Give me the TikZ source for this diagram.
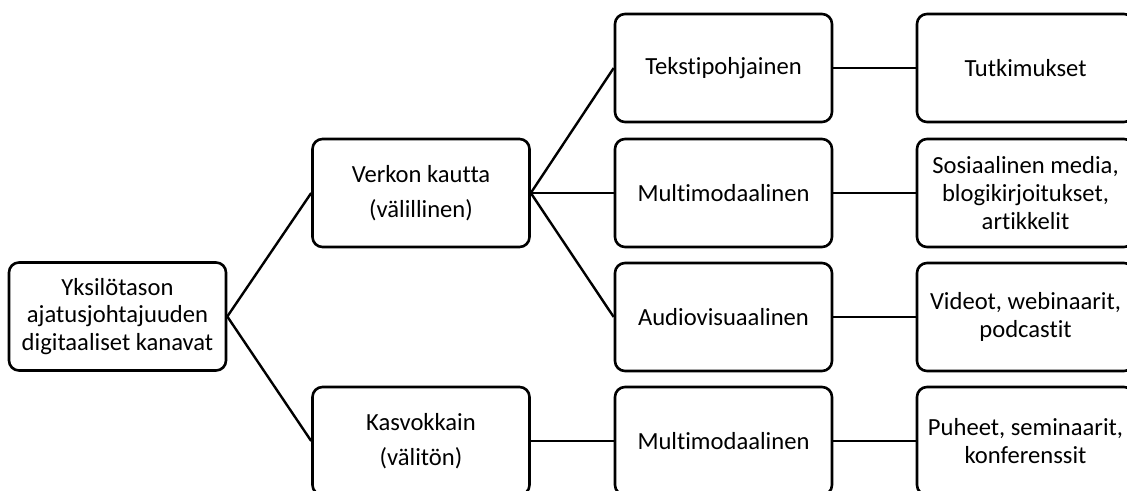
\documentclass[tikz,border=0pt]{standalone}
\usepackage{fontspec}
\setmainfont{Carlito}[Ligatures={NoCommon}]
\begin{document}
\begin{tikzpicture}[x=1pt,y=-1pt,
  box/.style={draw, line width=2.6pt, rounded corners=10pt, rectangle,
    minimum width=217pt, minimum height=108pt, inner sep=0pt,
    align=center, font=\fontsize{24.6}{27.8}\selectfont},
  link/.style={line width=2.4pt}]
\useasboundingbox (0,0) rectangle (1127,490);
\clip (0,0) rectangle (1127,490);
% root
\node[box] (root) at (117.5,316.5) {Yksilötason\\ajatusjohtajuuden\\digitaaliset kanavat};
% second level
\node[box] (online) at (421,193) {Verkon kautta\\[7pt](välillinen)};
\node[box] (face) at (421,441) {Kasvokkain\\[7pt](välitön)};
% third level
\node[box] (text) at (723.5,68) {Tekstipohjainen};
\node[box] (multi) at (723.5,193) {Multimodaalinen};
\node[box] (av) at (723.5,317) {Audiovisuaalinen};
\node[box] (multib) at (723.5,441) {Multimodaalinen};
% fourth level
\node[box] (res) at (1025.5,68) {Tutkimukset};
\node[box] (soc) at (1025.5,193) {Sosiaalinen media,\\blogikirjoitukset,\\artikkelit};
\node[box] (vid) at (1025.5,317) {Videot, webinaarit,\\podcastit};
\node[box] (talk) at (1025.5,441) {Puheet, seminaarit,\\konferenssit};
% connectors
\draw[link] (root.east) -- (online.west);
\draw[link] (root.east) -- (face.west);
\draw[link] (online.east) -- (text.west);
\draw[link] (online.east) -- (multi.west);
\draw[link] (online.east) -- (av.west);
\draw[link] (face.east) -- (multib.west);
\draw[link] (text.east) -- (res.west);
\draw[link] (multi.east) -- (soc.west);
\draw[link] (av.east) -- (vid.west);
\draw[link] (multib.east) -- (talk.west);
\end{tikzpicture}
\end{document}
